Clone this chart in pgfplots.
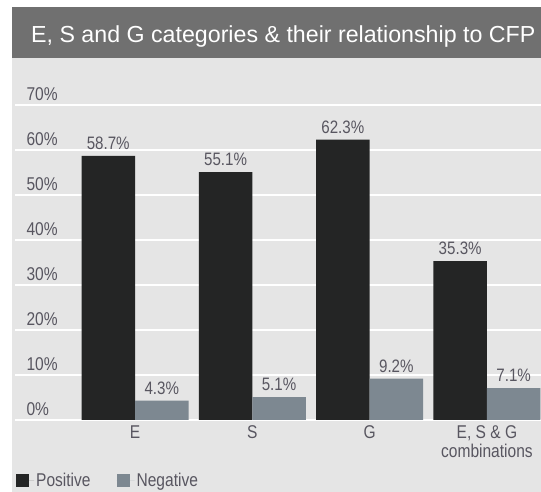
\documentclass[border=0pt]{standalone}
\usepackage{pgfplots}
\pgfplotsset{compat=1.18}
\usepackage{fontspec}
\setmainfont{Liberation Sans}
\newfontfamily\narrow[FakeStretch=0.84]{Liberation Sans}
\definecolor{panel}{RGB}{229,229,229}
\definecolor{titlebar}{RGB}{112,112,112}
\definecolor{posc}{RGB}{36,37,37}
\definecolor{negc}{RGB}{125,136,145}
\definecolor{lbl}{RGB}{88,86,96}
\begin{document}
\begin{tikzpicture}[x=1pt,y=1pt]
\clip (0,0) rectangle (541,492);
\fill[white] (0,0) rectangle (541,492);
\fill[panel] (12,0) rectangle (541,435);
\fill[titlebar] (12,434) rectangle (541,485);
\node[white, font=\fontsize{23.2}{27}\selectfont, anchor=base west, inner sep=0pt] at (31,449) {E, S and G categories \& their relationship to CFP};
\begin{axis}[
  at={(15pt,72pt)}, anchor=south west,
  width=526pt, height=337.5pt, scale only axis,
  xmin=-1.023, xmax=3.461, ymin=0, ymax=75,
  axis line style={draw=none},
  major tick length=0pt,
  ytick={0,10,...,70},
  ymajorgrids, grid style={white, line width=2pt},
  /pgf/number format/assume math mode=true,
  yticklabel={\pgfmathprintnumber{\tick}\%},
  yticklabel style={anchor=west, xshift=8pt, yshift=11pt, font=\narrow\fontsize{18.5}{20}\selectfont, text=lbl},
  xtick={0,1,2,3},
  xticklabels={E,S,G,{E, S \& G\\combinations}},
  xticklabel style={align=center, font=\narrow\fontsize{18.5}{19}\selectfont, text=lbl, yshift=-2pt},
  ybar=0pt, bar width=53.5pt,
  nodes near coords={\pgfmathprintnumber[fixed,precision=1,fixed zerofill]{\pgfplotspointmeta}\%},
  nodes near coords style={font=\narrow\fontsize{18}{20}\selectfont, text=lbl, inner sep=6pt},
  legend style={at={(0,0)}, anchor=north west, xshift=-2pt, yshift=-49pt, draw=none, fill=none,
    font=\narrow\fontsize{18.5}{20}\selectfont, text=lbl, legend columns=2,
    /tikz/every even column/.append style={column sep=24pt}},
  legend image code/.code={\fill[#1] (0pt,-6.5pt) rectangle (13pt,6.5pt); \path (0pt,0pt) -- (18pt,0pt);},
]
\addplot[fill=posc, draw=none] coordinates {(0,58.7) (1,55.1) (2,62.3) (3,35.3)};
\addplot[fill=negc, draw=none] coordinates {(0,4.3) (1,5.1) (2,9.2) (3,7.1)};
\legend{Positive, Negative}
\end{axis}
\end{tikzpicture}
\end{document}
